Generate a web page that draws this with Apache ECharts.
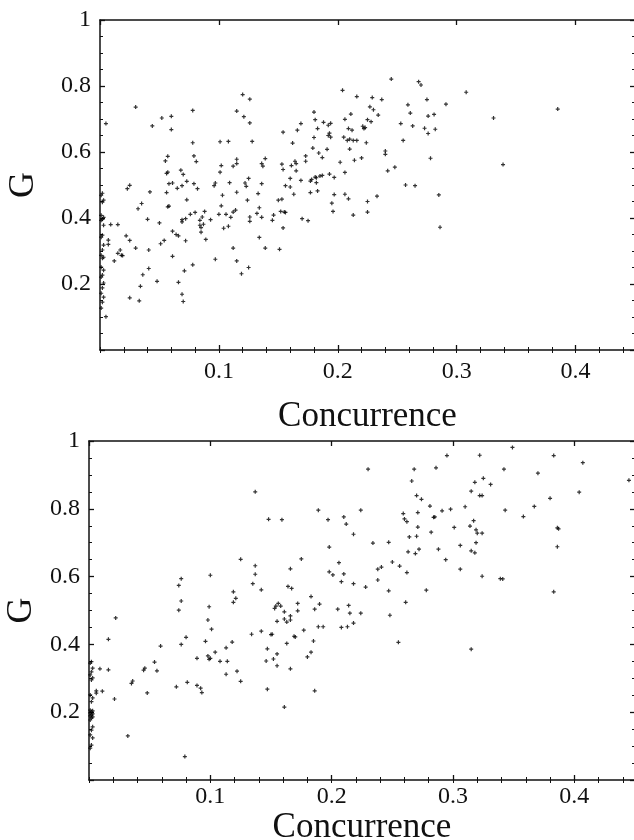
<!DOCTYPE html>
<html><head><meta charset="utf-8">
<script src="https://cdn.jsdelivr.net/npm/echarts@6/dist/echarts.min.js"></script>
<style>html,body{margin:0;padding:0;background:#fff}#c{width:634px;height:840px}</style>
</head><body><div id="c"></div>
<script>
// ---- tick labels ----
const xTickLabels = ['0.1','0.2','0.3','0.4'];
const yTickLabels = ['0.2','0.4','0.6','0.8','1'];
const xName = 'Concurrence';
const yName = 'G';

// ---- top panel data ----
const topX = [
0.005,0.030,0.044,0.052,0.060,0.060,0.078,0.078,0.079,0.081,
0.055,0.057,0.056,0.057,0.068,0.070,0.101,0.108,0.101,0.102,
0.112,0.115,0.115,0.115,0.120,0.121,0.126,0.126,0.128,0.136,
0.137,0.139,0.125,0.154,0.162,0.166,0.169,0.180,0.181,0.183,
0.180,0.179,0.153,0.154,0.161,0.164,0.165,0.165,0.173,0.173,
0.184,0.160,0.169,0.181,
0.187,0.191,0.188,0.192,0.193,0.194,0.192,0.194,0.204,0.206,
0.205,0.208,0.210,0.213,0.216,0.209,0.212,0.211,0.216,0.210,
0.202,0.206,0.214,0.220,0.224,0.221,0.223,0.222,0.225,0.228,
0.227,0.230,0.229,0.234,0.237,0.240,0.240,0.242,0.248,0.245,
0.253,0.255,0.259,0.261,0.263,0.268,0.270,0.275,0.276,0.273,
0.276,0.281,0.282,0.278,0.291,0.308,0.331,0.339,0.385,0.182,
0.185,0.187,0.193,0.197,0.178,
0.005,0.007,0.007,0.009,0.015,0.012,0.015,0.017,0.018,0.019,
0.022,0.025,0.030,0.023,0.025,0.032,0.035,0.040,0.042,0.041,
0.041,0.036,0.034,0.025,0.033,0.048,0.050,0.051,0.054,0.056,
0.058,0.061,0.057,0.058,0.061,0.064,0.066,0.061,0.066,0.069,
0.070,0.071,0.072,0.069,0.069,0.072,0.073,0.065,0.069,0.073,
0.078,0.076,0.080,0.079,0.082,0.084,0.084,0.085,0.087,0.086,
0.085,0.089,0.088,0.093,0.097,0.096,0.097,0.103,0.100,0.102,
0.104,0.106,0.108,0.109,0.110,0.112,0.114,0.112,0.115,0.115,
0.119,0.125,0.122,0.123,0.124,0.126,0.126,0.133,0.136,0.132,
0.134,0.136,0.134,0.139,0.145,0.146,0.151,0.154,0.150,0.153,
0.152,0.155,0.156,0.156,0.160,0.163,0.170,0.175,0.177,0.177,
0.182,0.183,0.195,0.197,0.196,0.206,0.209,0.213,0.225,0.225,
0.233,0.257,0.265,0.285,0.286,
0.002,0.001,0.003,0.002,0.001,0.003,0.002,0.001,0.003,0.002,
0.001,0.003,0.002,0.001,0.003,0.002,0.001,0.003,0.002,0.001,
0.003,0.002,0.001,0.003,0.002,0.001
];
const topG = [
0.686,0.736,0.679,0.703,0.708,0.668,0.726,0.628,0.588,0.571,
0.573,0.587,0.535,0.539,0.545,0.532,0.631,0.632,0.539,0.559,
0.557,0.565,0.578,0.724,0.774,0.707,0.760,0.688,0.632,0.565,
0.557,0.580,0.520,0.660,0.627,0.666,0.686,0.721,0.698,0.671,
0.644,0.612,0.563,0.547,0.559,0.572,0.565,0.543,0.588,0.572,
0.597,0.520,0.514,0.524,
0.583,0.608,0.690,0.681,0.657,0.687,0.650,0.645,0.787,0.699,
0.645,0.635,0.639,0.635,0.635,0.671,0.666,0.715,0.768,0.609,
0.569,0.538,0.575,0.582,0.628,0.678,0.674,0.671,0.698,0.692,
0.737,0.728,0.765,0.712,0.759,0.603,0.593,0.543,0.554,0.821,
0.686,0.635,0.743,0.718,0.679,0.813,0.803,0.759,0.709,0.672,
0.656,0.714,0.669,0.581,0.745,0.781,0.703,0.562,0.730,0.522,
0.527,0.529,0.533,0.523,0.517,
0.101,0.333,0.320,0.380,0.380,0.270,0.293,0.303,0.287,0.286,
0.346,0.332,0.309,0.489,0.499,0.428,0.444,0.396,0.479,0.303,
0.247,0.228,0.193,0.158,0.149,0.208,0.385,0.322,0.332,0.477,
0.504,0.506,0.434,0.436,0.360,0.350,0.346,0.284,0.205,0.169,
0.147,0.240,0.331,0.388,0.395,0.398,0.455,0.490,0.498,0.511,
0.258,0.411,0.417,0.504,0.489,0.393,0.378,0.371,0.381,0.403,
0.357,0.335,0.420,0.395,0.275,0.498,0.506,0.469,0.411,0.437,
0.369,0.411,0.375,0.507,0.402,0.418,0.424,0.309,0.270,0.478,
0.231,0.250,0.506,0.496,0.454,0.403,0.390,0.474,0.504,0.414,
0.431,0.402,0.341,0.309,0.393,0.409,0.305,0.370,0.454,0.457,
0.420,0.418,0.417,0.498,0.494,0.472,0.398,0.392,0.477,0.512,
0.507,0.482,0.445,0.471,0.420,0.472,0.458,0.409,0.450,0.418,
0.466,0.500,0.498,0.470,0.372,
0.475,0.469,0.454,0.448,0.408,0.402,0.396,0.393,0.378,0.348,
0.342,0.318,0.303,0.287,0.281,0.278,0.251,0.242,0.227,0.221,
0.203,0.188,0.172,0.160,0.145,0.127
];

// ---- bottom panel data ----
const botX = [
0.137,0.148,0.159,0.189,0.125,0.137,0.137,0.135,0.142,0.119,
0.121,0.100,0.076,0.074,0.166,0.175,0.164,0.167,0.183,0.197,
0.198,0.206,0.198,0.201,0.210,0.208,0.218,0.228,0.238,0.238,
0.241,0.247,0.250,0.256,0.262,0.234,0.247,0.210,0.212,0.218,
0.224,0.230,0.259,0.260,0.262,0.266,0.268,0.270,0.274,0.271,
0.271,0.264,0.270,0.263,0.269,0.272,0.278,0.281,0.282,0.284,
0.285,0.286,0.288,0.291,0.294,0.295,0.298,0.301,0.306,0.306,
0.310,0.314,0.315,0.318,0.322,0.322,0.324,0.325,0.331,0.317,
0.319,0.320,0.324,0.319,0.315,0.318,0.324,0.339,0.341,0.342,
0.343,0.349,0.358,0.367,0.370,0.380,0.383,0.386,0.387,0.386,
0.383,0.404,0.407,0.445,
0.022,0.016,0.009,0.016,0.006,0.006,0.011,0.021,0.032,0.035,
0.036,0.045,0.046,0.048,0.054,0.056,0.059,0.072,0.076,0.074,
0.076,0.080,0.081,0.079,0.089,0.089,0.092,0.093,0.096,0.098,
0.099,0.098,0.099,0.100,0.101,0.104,0.108,0.113,0.114,0.113,
0.118,0.119,0.122,0.125,0.134,0.142,0.146,0.147,0.147,0.150,
0.151,0.152,0.155,0.155,0.153,0.154,0.155,0.156,0.158,0.161,
0.161,0.163,0.166,0.166,0.163,0.161,0.166,0.169,0.170,0.172,
0.172,0.177,0.180,0.183,0.185,0.186,0.186,0.189,0.190,0.193,
0.205,0.208,0.213,0.214,0.215,0.218,0.224,0.248,0.255,0.261,0.315,
0.002,0.001,0.003,0.002,0.001,0.003,0.002,0.001,0.003,0.002,
0.001,0.003,0.002,0.001,0.003,0.002,0.001,0.003,0.002,0.001,
0.003,0.002,0.001,0.003,0.002,0.001
];
const botG = [
0.850,0.769,0.768,0.796,0.651,0.632,0.607,0.579,0.561,0.555,
0.536,0.604,0.594,0.574,0.623,0.652,0.571,0.565,0.541,0.768,
0.687,0.641,0.614,0.605,0.608,0.585,0.579,0.569,0.590,0.622,
0.628,0.558,0.643,0.631,0.612,0.699,0.701,0.776,0.755,0.725,
0.796,0.917,0.786,0.770,0.762,0.882,0.917,0.839,0.828,0.789,
0.746,0.717,0.719,0.673,0.668,0.681,0.560,0.808,0.731,0.775,
0.776,0.921,0.681,0.794,0.650,0.957,0.799,0.745,0.692,0.622,
0.806,0.749,0.852,0.878,0.958,0.839,0.839,0.890,0.872,0.765,
0.738,0.728,0.728,0.700,0.676,0.670,0.601,0.594,0.593,0.917,
0.796,0.981,0.777,0.807,0.905,0.831,0.957,0.744,0.741,0.688,
0.555,0.849,0.936,0.884,
0.478,0.415,0.328,0.325,0.263,0.256,0.262,0.239,0.130,0.285,
0.292,0.324,0.330,0.257,0.348,0.322,0.395,0.275,0.400,0.501,
0.528,0.421,0.288,0.069,0.359,0.279,0.271,0.258,0.409,0.472,
0.511,0.366,0.356,0.359,0.445,0.377,0.350,0.390,0.350,0.312,
0.407,0.524,0.321,0.291,0.430,0.439,0.351,0.268,0.387,0.429,
0.430,0.357,0.372,0.337,0.506,0.513,0.468,0.521,0.513,0.496,
0.475,0.466,0.472,0.484,0.403,0.215,0.328,0.424,0.422,0.499,
0.521,0.442,0.363,0.377,0.410,0.504,0.263,0.452,0.519,0.452,
0.504,0.450,0.452,0.515,0.492,0.463,0.492,0.486,0.406,0.524,0.386,
0.349,0.345,0.330,0.319,0.310,0.301,0.295,0.251,0.242,0.231,
0.206,0.204,0.201,0.198,0.195,0.192,0.189,0.186,0.183,0.177,
0.157,0.147,0.133,0.124,0.103,0.094
];

const FONT = "'Liberation Serif','Times New Roman',serif";
const INK = '#111';
const zip = (a, b) => a.map((v, i) => [v, b[i]]);

function fmt(list) {
  return v => { const s = String(Math.round(v * 10) / 10); return list.includes(s) ? s : ''; };
}
function xAxes(gi, nameGap, labelMargin) {
  const base = {type:'value', gridIndex:gi, min:0, max:0.45, splitLine:{show:false}};
  return [
    Object.assign({}, base, {position:'bottom', interval:0.1,
      name:xName, nameLocation:'middle', nameGap:nameGap,
      nameTextStyle:{fontFamily:FONT, fontSize:35, color:INK},
      axisLine:{show:true, onZero:false, lineStyle:{color:INK, width:1.5}},
      axisTick:{show:true, inside:true, length:5, lineStyle:{color:INK, width:1.3}},
      axisLabel:{show:true, fontFamily:FONT, fontSize:24, color:INK, margin:labelMargin,
        showMinLabel:false, showMaxLabel:false, formatter:fmt(xTickLabels)}}),
    Object.assign({}, base, {position:'bottom', interval:0.02,
      axisLine:{show:false}, axisLabel:{show:false},
      axisTick:{show:true, inside:true, length:3, lineStyle:{color:INK, width:1}}}),
    Object.assign({}, base, {position:'top', interval:0.1,
      axisLine:{show:true, onZero:false, lineStyle:{color:INK, width:1.5}},
      axisTick:{show:true, inside:true, length:5, lineStyle:{color:INK, width:1.3}},
      axisLabel:{show:false}}),
    Object.assign({}, base, {position:'top', interval:0.02,
      axisLine:{show:false}, axisLabel:{show:false},
      axisTick:{show:true, inside:true, length:3, lineStyle:{color:INK, width:1}}})
  ];
}
function yAxes(gi, nameGap) {
  const base = {type:'value', gridIndex:gi, min:0, max:1, interval:0.2, splitLine:{show:false},
    minorTick:{show:true, splitNumber:4, length:3, lineStyle:{color:INK, width:1}}};
  return [
    Object.assign({}, base, {position:'left',
      name:yName, nameLocation:'middle', nameGap:nameGap,
      nameTextStyle:{fontFamily:FONT, fontSize:36, color:INK},
      axisLine:{show:true, onZero:false, lineStyle:{color:INK, width:1.5}},
      axisTick:{show:true, inside:true, length:5, lineStyle:{color:INK, width:1.3}},
      axisLabel:{show:true, fontFamily:FONT, fontSize:24, color:INK, margin:9,
        showMinLabel:false, formatter:fmt(yTickLabels)}}),
    Object.assign({}, base, {position:'right',
      axisLine:{show:true, onZero:false, lineStyle:{color:INK, width:1.5}},
      axisTick:{show:true, inside:true, length:5, lineStyle:{color:INK, width:1.3}},
      axisLabel:{show:false}})
  ];
}

const plus = 'path://M-1,-0.3H1V0.3H-1Z M-0.3,-1H0.3V1H-0.3Z';

const chart = echarts.init(document.getElementById('c'), null, {renderer:'canvas'});
chart.setOption({
  backgroundColor:'#fff',
  animation:false,
  grid:[
    {left:100, top:20, right:-1, height:330, containLabel:false, outerBoundsMode:'none'},
    {left:89, top:441, right:-1, height:339, containLabel:false, outerBoundsMode:'none'}
  ],
  xAxis:[].concat(xAxes(0, 49, 10), xAxes(1, 24, 5)),
  yAxis:[].concat(yAxes(0, 58), yAxes(1, 48)),
  series:[
    {type:'scatter', xAxisIndex:0, yAxisIndex:0, data:zip(topX, topG),
     symbol:plus, symbolSize:4, itemStyle:{color:'#000'}, silent:true},
    {type:'scatter', xAxisIndex:4, yAxisIndex:2, data:zip(botX, botG),
     symbol:plus, symbolSize:4, itemStyle:{color:'#000'}, silent:true}
  ]
});
</script>
</body></html>
